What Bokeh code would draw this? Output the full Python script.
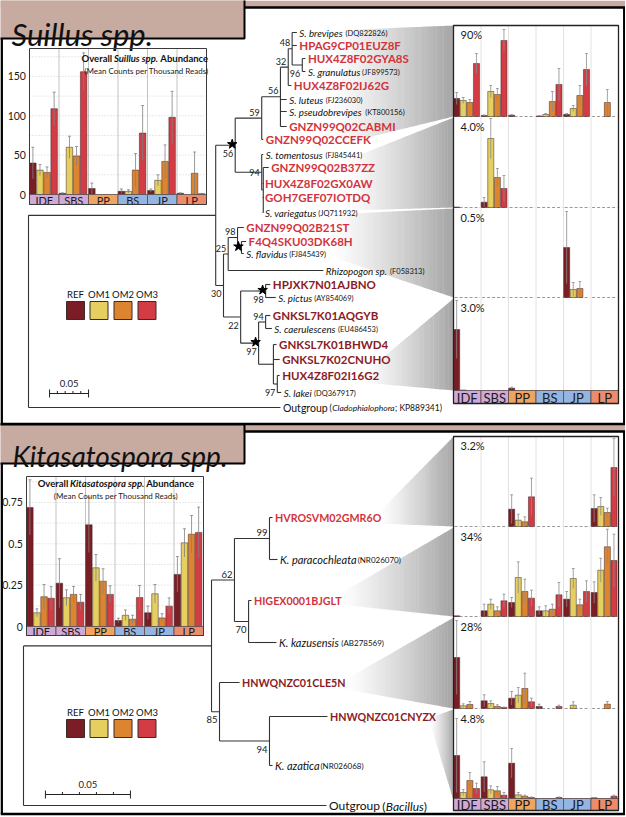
import numpy as np
from bokeh.plotting import figure
from bokeh.models import Range1d
from bokeh.embed import file_html
from bokeh.resources import INLINE
from bokeh.core.properties import value

# ======================= DATA =======================
SITES = ["IDF", "SBS", "PP", "BS", "JP", "LP"]
TREATMENTS = ["REF", "OM1", "OM2", "OM3"]

# Overall abundance insets (mean counts per thousand reads); rows = sites, cols = treatments
suillus_mean = [[40, 31, 28, 109], [1.5, 60, 49, 156], [7.6, 0, 0, 0],
                [4, 4, 31, 78], [5, 18, 42, 98], [1.5, 0, 27, 1]]
suillus_err = [[20, 7, 7, 21], [0.5, 14, 12, 24], [7, 0, 0, 0],
               [3, 2, 21, 35], [2, 7, 21, 33], [0.5, 0, 27, 0.3]]
suillus_ticks = [0, 50, 100, 150]

kitasato_mean = [[0.72, 0.083, 0.18, 0.171], [0.262, 0.174, 0.194, 0.147],
                 [0.615, 0.355, 0.274, 0.194], [0.036, 0.068, 0.044, 0.175],
                 [0.083, 0.198, 0.052, 0.123], [0.315, 0.506, 0.558, 0.569]]
kitasato_err = [[0.167, 0.024, 0.074, 0.07], [0.148, 0.048, 0.048, 0.047],
                [0.167, 0.08, 0.075, 0.052], [0.014, 0.032, 0.024, 0.073],
                [0.04, 0.056, 0.025, 0.05], [0.108, 0.085, 0.113, 0.153]]
kitasato_ticks = [0, 0.25, 0.5, 0.75]

# Clade panels (relative abundance, each row on its own scale)
suillus_clade_pct = ["90%", "4.0%", "0.5%", "3.0%"]
suillus_clade_mean = [
    [[18, 16, 14, 53], [1, 25, 22, 76], [1.3, 0, 0, 0], [0.5, 2, 15, 32], [2, 8, 21, 47], [0, 0, 14, 0]],
    [[0.5, 0, 0, 0], [5.3, 69, 30, 19], [0, 0, 0, 0], [0, 0, 0, 0], [0, 0, 0, 0], [0, 0, 0, 0]],
    [[0, 0, 0, 0], [0, 0, 0, 0], [0, 0, 0, 0], [0, 0, 0, 0], [50, 8, 9, 0], [0, 0, 0, 0]],
    [[61, 0.5, 0, 0], [0, 0, 0, 0], [2.3, 0, 0, 0], [0, 0, 0, 0], [0, 0, 0, 0], [0, 0, 0, 0]],
]
suillus_clade_err = [
    [[6, 3, 3, 10], [0.5, 6, 6, 11], [0.5, 0, 0, 0], [0.3, 1, 10, 16], [1, 3, 10, 16], [0, 0, 13, 0]],
    [[0, 0, 0, 0], [4.7, 20, 9, 13], [0, 0, 0, 0], [0, 0, 0, 0], [0, 0, 0, 0], [0, 0, 0, 0]],
    [[0, 0, 0, 0], [0, 0, 0, 0], [0, 0, 0, 0], [0, 0, 0, 0], [36, 7, 7, 0], [0, 0, 0, 0]],
    [[29, 0, 0, 0], [0, 0, 0, 0], [1, 0, 0, 0], [0, 0, 0, 0], [0, 0, 0, 0], [0, 0, 0, 0]],
]
kitasato_clade_pct = ["3.2%", "34%", "28%", "4.8%"]
kitasato_clade_mean = [
    [[0, 0, 0, 0], [0, 0, 0, 0], [17.3, 6.3, 4.7, 29.7], [0, 0, 0, 0], [0, 0, 0, 0], [18, 20, 14, 59]],
    [[0.7, 0, 0, 0], [5.7, 12.3, 5.7, 15.7], [14, 39, 25, 18.3], [5.7, 5.7, 7.3, 21.7], [17.3, 38, 11.7, 25], [24, 46.3, 69.7, 56]],
    [[51, 2.7, 4, 0], [7.7, 5, 2, 1], [10.3, 13.3, 20, 6.7], [2, 0, 0, 2], [0, 3.3, 0, 0], [0, 0, 4.3, 0]],
    [[43, 6, 18, 10], [21.7, 8.7, 7.7, 3.3], [35.3, 3.7, 2.3, 1], [0, 0, 0, 1], [0, 0, 0, 0], [0.7, 0, 0, 2.3]],
]
kitasato_clade_err = [
    [[0, 0, 0, 0], [0, 0, 0, 0], [14.4, 6, 5, 18.6], [0, 0, 0, 0], [0, 0, 0, 0], [13.7, 9, 4.3, 29]],
    [[0, 0, 0, 0], [6.6, 5, 4, 6.6], [5, 15.7, 12.3, 8], [4, 5, 5, 12.3], [7.7, 10, 5.6, 10.7], [10.7, 12, 17.6, 26.3]],
    [[37, 2, 3, 0], [6, 2.7, 1.7, 0.5], [6.7, 7.7, 15.3, 3.6], [2.3, 0, 0, 1.3], [0, 3.4, 0, 0], [0, 0, 2.7, 0]],
    [[37, 3, 8, 5.3], [15, 4, 4.3, 2.7], [14.7, 2.3, 1, 0.5], [0, 0, 0, 0.5], [0, 0, 0, 0], [0, 0, 0, 1]],
]

# Phylogenies: internal node -> (depth in subst./site, children); leaves -> (depth, kind, name, accession)
suillus_nodes = {
    "root": (0.0, ["A", "out"]),
    "A": (0.240, ["N56", "N30"]),
    "N56": (0.265, ["N59", "N94"]),
    "N59": (0.299, ["N56b", "CCEFK"]),
    "N56b": (0.323, ["N32", "luteus", "pseudobrevipes", "CABMI"]),
    "N32": (0.333, ["N48", "IJ62G"]),
    "N48": (0.338, ["brevipes", "HPAG", "N96"]),
    "N96": (0.351, ["GYA8S", "granulatus"]),
    "N94": (0.299, ["tomentosus", "N94c"]),
    "N94c": (0.301, ["B37ZZ", "GX0AW", "GOH", "variegatus"]),
    "N30": (0.250, ["N25", "N22"]),
    "N25": (0.256, ["N98", "rhizo"]),
    "N98": (0.268, ["B21ST", "Nstar"]),
    "Nstar": (0.273, ["F4Q4", "flavidus"]),
    "N22": (0.272, ["Npic", "N97a"]),
    "Npic": (0.304, ["HPJXK", "pictus"]),
    "N97a": (0.295, ["N94b", "N97b"]),
    "N94b": (0.304, ["AQGYB", "caerulescens"]),
    "N97b": (0.314, ["BHWD4", "CNUHO", "Nlak"]),
    "Nlak": (0.319, ["I16G2", "lakei"]),
}
suillus_leaves = {
    "brevipes": (0.344, "sp", "S. brevipes", "(DQ822826)"),
    "HPAG": (0.344, "red", "HPAG9CP01EUZ8F", ""),
    "GYA8S": (0.355, "red", "HUX4Z8F02GYA8S", ""),
    "granulatus": (0.355, "sp", "S. granulatus", "(JF899573)"),
    "IJ62G": (0.337, "red", "HUX4Z8F02IJ62G", ""),
    "luteus": (0.331, "sp", "S. luteus", "(FJ236030)"),
    "pseudobrevipes": (0.331, "sp", "S. pseudobrevipes", "(KT800156)"),
    "CABMI": (0.331, "red", "GNZN99Q02CABMI", ""),
    "CCEFK": (0.301, "red", "GNZN99Q02CCEFK", ""),
    "tomentosus": (0.301, "sp", "S. tomentosus", "(FJ845441)"),
    "B37ZZ": (0.308, "red", "GNZN99Q02B37ZZ", ""),
    "GX0AW": (0.300, "red", "HUX4Z8F02GX0AW", ""),
    "GOH": (0.300, "red", "GOH7GEF07IOTDQ", ""),
    "variegatus": (0.300, "sp", "S. variegatus", "(JQ711932)"),
    "B21ST": (0.276, "red", "GNZN99Q02B21ST", ""),
    "F4Q4": (0.279, "red", "F4Q4SKU03DK68H", ""),
    "flavidus": (0.276, "sp", "S. flavidus", "(FJ845439)"),
    "rhizo": (0.378, "sp", "Rhizopogon sp.", "(F058313)"),
    "HPJXK": (0.310, "dark", "HPJXK7N01AJBNO", ""),
    "pictus": (0.317, "sp", "S. pictus", "(AY854069)"),
    "AQGYB": (0.310, "dark", "GNKSL7K01AQGYB", ""),
    "caerulescens": (0.312, "sp", "S. caerulescens", "(EU486453)"),
    "BHWD4": (0.318, "dark", "GNKSL7K01BHWD4", ""),
    "CNUHO": (0.322, "dark", "GNKSL7K02CNUHO", ""),
    "I16G2": (0.322, "dark", "HUX4Z8F02I16G2", ""),
    "lakei": (0.324, "sp", "S. lakei", "(DQ367917)"),
    "out": (0.323, "out", "Outgroup", ["(", "Cladophialophora", "; KP889341)"]),
}
suillus_support = [("N48", "48", "a"), ("N32", "32", "a"), ("N96", "96", "b"), ("N56b", "56", "a"),
                   ("N59", "59", "a"), ("N56", "56", "b"), ("N94", "94", "m"), ("N98", "98", "a"),
                   ("N25", "25", "a"), ("N30", "30", "b"), ("N22", "22", "b"), ("Npic", "98", "b"),
                   ("N94b", "94", "a"), ("N97a", "97", "b"), ("Nlak", "97", "b")]
suillus_stars = ["N56", "Nstar", "Npic", "N97a"]

kitasato_nodes = {
    "root": (0.0, ["B", "out"]),
    "B": (0.1106, ["N62", "N85"]),
    "N62": (0.1241, ["N99", "N70"]),
    "N99": (0.1447, ["HVROSVM", "paracochleata"]),
    "N70": (0.1324, ["HIGEX", "kazusensis"]),
    "N85": (0.1153, ["CLE5N", "N94"]),
    "N94": (0.1447, ["CNYZX", "azatica"]),
}
kitasato_leaves = {
    "HVROSVM": (0.1465, "red", "HVROSVM02GMR6O", ""),
    "paracochleata": (0.1494, "sp", "K. paracochleata", "(NR026070)"),
    "HIGEX": (0.1341, "red", "HIGEX0001BJGLT", ""),
    "kazusensis": (0.1488, "sp", "K. kazusensis", "(AB278569)"),
    "CLE5N": (0.1271, "dark", "HNWQNZC01CLE5N", ""),
    "CNYZX": (0.1788, "dark", "HNWQNZC01CNYZX", ""),
    "azatica": (0.1465, "sp", "K. azatica", "(NR026068)"),
    "out": (0.1782, "out", "Outgroup", ["(", "Bacillus", ")"]),
}
kitasato_support = [("N99", "99", "a"), ("N62", "62", "a"), ("N70", "70", "b"),
                    ("N85", "85", "b"), ("N94", "94", "b")]
SCALE_LEN = 0.05

# ======================= LAYOUT / STYLE =======================
XL, XR, YB, YT = 0, 625, 816, 0
p = figure(width=625, height=816, x_range=Range1d(XL, XR), y_range=Range1d(YB, YT),
           output_backend="svg", toolbar_location=None, x_axis_location=None,
           y_axis_location=None, min_border=0)
p.grid.visible = False
p.outline_line_color = None
p.background_fill_color = "white"

FONT = "Lato"
TREAT_COLORS = ["#7b1d24", "#e5cf5e", "#dd8431", "#d33c45"]
SITE_COLORS = ["#cfaad6", "#cfaad6", "#efa562", "#94b4e2", "#94b4e2", "#eb8c6d"]
RED, DARK = "#d2343d", "#8a1b24"
BROWN = "#c7aaa0"

# approximate Lato advance widths (em) for placing adjoining text pieces
_W = dict(zip("ABCDEFGHIJKLMNOPQRSTUVWXYZ",
              [.68, .63, .66, .73, .55, .53, .71, .75, .28, .39, .65, .49, .90, .75, .78, .59, .78,
               .62, .51, .58, .72, .67, 1.0, .65, .62, .60]))
_W.update(dict(zip("abcdefghijklmnopqrstuvwxyz",
                   [.48, .55, .45, .55, .51, .32, .49, .55, .23, .23, .49, .23, .82, .55, .54, .55,
                    .55, .36, .41, .34, .55, .49, .75, .48, .49, .43])))
_W.update({c: .58 for c in "0123456789"})
_W.update({" ": .19, ".": .22, "(": .30, ")": .30, ";": .22, "%": .72})


def tw(s, size, bold=False, italic=False):
    return sum(_W.get(c, .55) for c in s) * size * (1.04 if bold else 1.0) * (0.975 if italic else 1.0)


x_extra, y_extra = {}, {}


def add_x(name, d0, px0, d1, px1):
    k = (d1 - d0) / (px1 - px0)
    x_extra[name] = Range1d(d0 + (XL - px0) * k, d0 + (XR - px0) * k)
    return name


def add_y(name, d0, px0, d1, px1):
    k = (d1 - d0) / (px1 - px0)
    y_extra[name] = Range1d(d0 + (YB - px0) * k, d0 + (YT - px0) * k)
    return name


def txt(x, y, texts, size, style="normal", color="#222222", align="left",
        baseline="middle", xr="default", yr="default", font=FONT):
    p.text(x=x, y=y, text=texts, text_font=value(font), text_font_size="%gpx" % size,
           text_font_style=style, text_color=color, text_align=align,
           text_baseline=baseline, x_range_name=xr, y_range_name=yr)


def wedge(xl, ytl, ybl, xr_, ytr, ybr, n=36, dark=165):
    xs, ys, cs = [], [], []
    for i in range(n):
        f0, f1 = i / n, (i + 1) / n
        x0, x1 = xl + (xr_ - xl) * f0, xl + (xr_ - xl) * f1
        yt0, yt1 = ytl + (ytr - ytl) * f0, ytl + (ytr - ytl) * f1
        yb0, yb1 = ybl + (ybr - ybl) * f0, ybl + (ybr - ybl) * f1
        g = int(round(255 - (255 - dark) * ((f0 + f1) / 2) ** 1.2))
        cs.append("#%02x%02x%02x" % (g, g, g))
        xs.append([x0, x1 + 0.4, x1 + 0.4, x0])
        ys.append([yt0, yt1, yb1, yb0])
    p.patches(xs, ys, fill_color=cs, line_color=None)


def bars(xr, yr, means, errs, cap_w=0.05, err_color="#808080"):
    xs, tops, cols, ex, e0, e1 = [], [], [], [], [], []
    for s in range(6):
        for t in range(4):
            v, e = means[s][t], errs[s][t]
            if v <= 0:
                continue
            x = s + 0.115 + 0.24 * t
            xs.append(x); tops.append(v); cols.append(TREAT_COLORS[t])
            if e > 0:
                ex.append(x); e0.append(max(v - e, 0)); e1.append(v + e)
    p.vbar(x=xs, top=tops, bottom=0, width=0.22, fill_color=cols, line_color="#3d2626",
           line_width=0.5, x_range_name=xr, y_range_name=yr)
    p.segment(x0=ex, y0=e0, x1=ex, y1=e1, line_color=err_color, line_width=0.8,
              x_range_name=xr, y_range_name=yr)
    p.segment(x0=[x - cap_w for x in ex], y0=e1, x1=[x + cap_w for x in ex], y1=e1,
              line_color=err_color, line_width=0.8, x_range_name=xr, y_range_name=yr)


def site_band(xr, top_px, bot_px, size):
    p.quad(left=list(range(6)), right=list(range(1, 7)), top=[top_px] * 6, bottom=[bot_px] * 6,
           fill_color=SITE_COLORS, line_color="#5a4a4a", line_width=0.8, x_range_name=xr)
    txt([s + 0.5 for s in range(6)], [(top_px + bot_px) / 2 + 0.5] * 6, SITES, size,
        align="center", xr=xr, color="#1a1a1a")


def inset(key, means, errs, ticks, grid_step, L, R, top_px, zero_px, v_at_top, band_px,
          title_italic, title_cx, sub_cx, title_y):
    xr = add_x(key + "x", 0, L, 6, R)
    yr = add_y(key + "y", 0, zero_px, v_at_top, top_px)
    gl = list(np.arange(grid_step, v_at_top, grid_step))
    p.segment(x0=[0] * len(gl), x1=[6] * len(gl), y0=gl, y1=gl, line_color="#c8c8c8",
              line_width=0.8, line_dash="1 2", x_range_name=xr, y_range_name=yr)
    p.segment(x0=[1, 2, 3, 4, 5], x1=[1, 2, 3, 4, 5], y0=[0] * 5, y1=[v_at_top] * 5,
              line_color="#b4b4b4", line_width=0.8, x_range_name=xr, y_range_name=yr)
    bars(xr, yr, means, errs)
    site_band(xr, zero_px, band_px, 11)
    p.quad(left=[L], right=[R], top=[top_px], bottom=[band_px], fill_color=None,
           line_color="#3a3a3a", line_width=1)
    txt([-0.12] * len(ticks), ticks, [("%g" % t) for t in ticks], 10.5, align="right",
        xr=xr, yr=yr, color="#1a1a1a")
    fs = 9.5
    parts = [("Overall ", "bold"), (title_italic + " ", "bold italic"), ("Abundance", "bold")]
    widths = [tw(t, fs, bold=True, italic="italic" in st) for t, st in parts]
    x = title_cx - sum(widths) / 2
    for (t, st), w in zip(parts, widths):
        txt([x], [title_y], [t.strip()], fs, style=st, color="#111111")
        x += w
    txt([sub_cx], [title_y + 12.5], ["(Mean Counts per Thousand Reads)"], 8, align="center",
        color="#222222")


def clade_panel(key, rows_mean, rows_err, pct, L, R, row_tops, row_bases, band_bot):
    xr = add_x(key + "x", 0, L, 6, R)
    p.segment(x0=[1, 2, 3, 4, 5], x1=[1, 2, 3, 4, 5], y0=[row_tops[0]] * 5, y1=[row_bases[-1]] * 5,
              line_color="#dadada", line_width=0.8, x_range_name=xr)
    for i in range(4):
        yr = add_y("%s%d" % (key, i), 0, row_bases[i], row_bases[i] - row_tops[i], row_tops[i])
        p.segment(x0=[s + 0.04 for s in range(6)], x1=[s + 0.96 for s in range(6)],
                  y0=[0] * 6, y1=[0] * 6, line_color="#9a9a9a", line_width=1,
                  line_dash="3 2", x_range_name=xr, y_range_name=yr)
        bars(xr, yr, rows_mean[i], rows_err[i], err_color="#8c8c8c")
        txt([L + 7], [row_tops[i] + 9], [pct[i]], 11, color="#1a1a1a")
    site_band(xr, row_bases[-1], band_bot, 13)
    p.quad(left=[L], right=[R], top=[row_tops[0]], bottom=[band_bot], fill_color=None,
           line_color="#222222", line_width=1.3)


def tree(key, nodes, leaves, leaf_y, root_px, px_per_unit, support, stars, sizes):
    xr = add_x(key, 0, root_px, 1, root_px + px_per_unit)
    ypos = dict(leaf_y)
    depth = {k: v[0] for k, v in leaves.items()}
    depth.update({k: v[0] for k, v in nodes.items()})

    def gy(n):
        if n not in ypos:
            cy = [gy(c) for c in nodes[n][1]]
            ypos[n] = (min(cy) + max(cy)) / 2
        return ypos[n]
    gy("root")
    x0, y0, x1, y1 = [], [], [], []
    for n, (d, ch) in nodes.items():
        cy = [ypos[c] for c in ch]
        x0.append(d); x1.append(d); y0.append(min(cy)); y1.append(max(cy))
        for c in ch:
            x0.append(d); x1.append(depth[c]); y0.append(ypos[c]); y1.append(ypos[c])
    p.segment(x0=x0, y0=y0, x1=x1, y1=y1, line_color="#333333", line_width=1.1, x_range_name=xr)
    code_size, sp_size, acc_size, sup_size, out_size, out_part = sizes
    u = 1.0 / px_per_unit
    for n, (d, kind, name, acc) in leaves.items():
        lx, ly = d + 2.5 * u, ypos[n]
        if kind in ("red", "dark"):
            txt([lx], [ly], [name], code_size, style="bold", color=RED if kind == "red" else DARK, xr=xr)
        elif kind == "sp":
            txt([lx], [ly], [name], sp_size, style="italic", color="#111111", xr=xr)
            ax = lx + (tw(name, sp_size, italic=True) + 3) * u
            txt([ax], [ly + 0.5], [acc], acc_size, color="#111111", xr=xr)
        else:
            txt([lx], [ly], [name], out_size, color="#111111", xr=xr)
            ax = lx + (tw(name + " ", out_size) + 1) * u
            styles = ["normal", "italic", "normal"]
            for j, part in enumerate(acc):
                txt([ax], [ly + 0.5], [part], out_part, style=styles[j], color="#111111", xr=xr)
                ax += (tw(part, out_part, italic=(j == 1)) + (0.5 if j == 1 else 0)) * u
    sx, sy, st = [], [], []
    for n, lab, side in support:
        sx.append(depth[n] - 2 * u)
        sy.append(ypos[n] + {"a": -6, "b": 8, "m": 0}[side])
        st.append(lab)
    txt(sx, sy, st, sup_size, align="right", color="#1a1a1a", xr=xr)
    if stars:
        p.scatter(x=[depth[n] - 3 * u for n in stars], y=[ypos[n] - 1 for n in stars], marker="star",
                  size=10, fill_color="black", line_color="black", x_range_name=xr)
    return xr


# ----- section frames & header tabs -----
p.quad(left=[0], right=[625], top=[0], bottom=[7], fill_color=BROWN, line_color=None)
p.quad(left=[0], right=[625], top=[424], bottom=[431], fill_color=BROWN, line_color=None)
p.segment(x0=[244, 244, 0, 1.2, 623.8, 0, 1.2, 623.8],
          y0=[7, 431, 423.5, 38, 7, 813.5, 463, 431],
          x1=[625, 625, 625, 1.2, 623.8, 625, 1.2, 623.8],
          y1=[7, 431, 423.5, 423.5, 423.5, 813.5, 813.5, 813.5],
          line_color="black", line_width=2.5)
p.quad(left=[-2], right=[244], top=[-2], bottom=[38], fill_color=BROWN, line_color="black", line_width=2)
p.quad(left=[-2], right=[244], top=[424], bottom=[463], fill_color=BROWN, line_color="black", line_width=2)
txt([11], [33], ["Suillus spp."], 31, style="italic", baseline="alphabetic", color="#111111")
txt([12], [455], ["Kitasatospora spp."], 28, style="italic", baseline="alphabetic", color="#111111")

# ----- gradient wedges -----
wedge(330, 30, 146, 453, 25, 116)
wedge(345, 160, 210, 453, 117, 207)
wedge(330, 214, 256, 453, 208, 297)
wedge(362, 374, 382, 453, 298, 390)
wedge(378, 512, 523, 453, 436, 526)
wedge(338, 594, 604, 453, 527, 616)
wedge(345, 679, 689, 453, 617, 708)
wedge(430, 717, 724, 453, 709, 800)

# ----- trees -----
s_leaf_y = {"brevipes": 32, "HPAG": 45, "GYA8S": 58, "granulatus": 71, "IJ62G": 85, "luteus": 99,
            "pseudobrevipes": 111, "CABMI": 126, "CCEFK": 139, "tomentosus": 154, "B37ZZ": 167,
            "GX0AW": 183, "GOH": 197, "variegatus": 212, "B21ST": 227, "F4Q4": 241, "flavidus": 253,
            "rhizo": 270, "HPJXK": 284, "pictus": 297, "AQGYB": 315, "caerulescens": 328,
            "BHWD4": 344, "CNUHO": 359, "I16G2": 375, "lakei": 392, "out": 407}
txs = tree("ts", suillus_nodes, suillus_leaves, s_leaf_y, 28, 780, suillus_support, suillus_stars,
           (11.5, 9.8, 7.5, 9, 10.5, 8.5))

k_leaf_y = {"HVROSVM": 517, "paracochleata": 559, "HIGEX": 600, "kazusensis": 642, "CLE5N": 682,
            "CNYZX": 716, "azatica": 765, "out": 805}
txk = tree("tk", kitasato_nodes, kitasato_leaves, k_leaf_y, 23, 1700, kitasato_support, [],
           (10.7, 11, 8, 9.5, 12, 12))

# scale bars
for xr, d0, y in ((txs, 0.027, 393), (txk, 0.0129, 794)):
    ticks = [d0 + SCALE_LEN * i / 5 for i in range(6)]
    p.segment(x0=[d0], x1=[d0 + SCALE_LEN], y0=[y], y1=[y], line_color="#222222", line_width=1.2, x_range_name=xr)
    p.segment(x0=ticks, x1=ticks, y0=[y - 4 if i in (0, 5) else y - 2.5 for i in range(6)],
              y1=[y + 4 if i in (0, 5) else y for i in range(6)], line_color="#222222",
              line_width=1, x_range_name=xr)
    txt([d0 + SCALE_LEN / 2], [y - 10], ["0.05"], 9.5, align="center", xr=xr)

# ----- legends -----
for ly in (294, 712):
    lx = [75, 98.5, 122.5, 146.5]
    p.rect(x=lx, y=[ly + 16] * 4, width=18, height=18, fill_color=TREAT_COLORS,
           line_color="#3a2a2a", line_width=1)
    txt(lx, [ly] * 4, TREATMENTS, 9.5, align="center", color="#111111")

# ----- overall abundance insets -----
inset("is", suillus_mean, suillus_err, suillus_ticks, 25, 29, 206, 48, 194, 185.5, 204,
      "Suillus spp.", 144.5, 146, 58)
inset("ik", kitasato_mean, kitasato_err, kitasato_ticks, 0.125, 26, 203, 476, 626, 0.907, 635,
      "Kitasatospora spp.", 115.5, 115.5, 483)

# ----- clade panels -----
clade_panel("cs", suillus_clade_mean, suillus_clade_err, suillus_clade_pct, 453, 618,
            [25, 117, 208, 298], [116, 207, 297, 390], 403)
clade_panel("ck", kitasato_clade_mean, kitasato_clade_err, kitasato_clade_pct, 453, 618,
            [436, 527, 617, 709], [526, 616, 708, 798], 810)

p.extra_x_ranges = x_extra
p.extra_y_ranges = y_extra

open("out.html", "w").write(file_html(p, INLINE))
